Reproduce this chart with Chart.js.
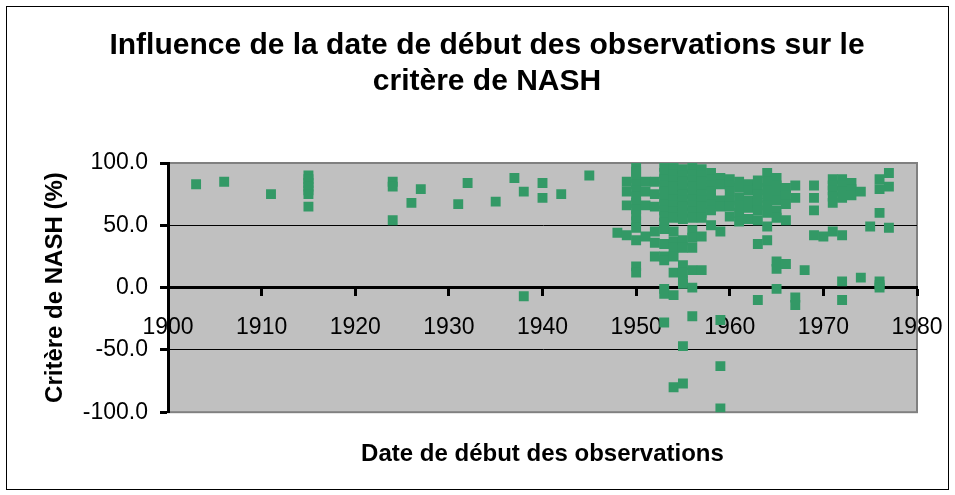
<!DOCTYPE html>
<html lang="fr">
<head>
<meta charset="utf-8">
<title>Critère de NASH</title>
<script src="https://cdn.jsdelivr.net/npm/chart.js@4.4.0/dist/chart.umd.min.js"></script>
<style>
  body { margin: 0; background: #fff; }
  canvas { display: block; }
</style>
</head>
<body>
<canvas id="nashChart" width="955" height="495"></canvas>
<script>
// Date de début des observations, une entrée par station
const annees = [
  1903, 1906, 1911,
  1915, 1915, 1915, 1915, 1915, 1915, 1915,
  1924, 1924, 1924, 1926, 1927, 1931, 1932, 1935, 1937,
  1938, 1938, 1940, 1940, 1942, 1945, 1948,
  1949, 1949, 1949, 1949,
  1950, 1950, 1950, 1950, 1950, 1950, 1950, 1950, 1950, 1950, 1950, 1950, 1950, 1950,
  1951, 1951, 1951, 1951,
  1952, 1952, 1952, 1952, 1952, 1952,
  1953, 1953, 1953, 1953, 1953, 1953, 1953, 1953, 1953, 1953, 1953, 1953, 1953, 1953, 1953, 1953, 1953,
  1954, 1954, 1954, 1954, 1954, 1954, 1954, 1954, 1954, 1954, 1954, 1954, 1954, 1954, 1954, 1954,
  1955, 1955, 1955, 1955, 1955, 1955, 1955, 1955, 1955, 1955, 1955, 1955, 1955, 1955, 1955, 1955, 1955,
  1956, 1956, 1956, 1956, 1956, 1956, 1956, 1956, 1956, 1956, 1956, 1956, 1956, 1956, 1956,
  1957, 1957, 1957, 1957, 1957, 1957, 1957, 1957, 1957, 1957, 1957,
  1958, 1958, 1958, 1958, 1958, 1958, 1958, 1958,
  1959, 1959, 1959, 1959, 1959, 1959, 1959, 1959,
  1960, 1960, 1960, 1960, 1960, 1960,
  1961, 1961, 1961, 1961, 1961, 1961,
  1962, 1962, 1962, 1962, 1962,
  1963, 1963, 1963, 1963, 1963, 1963, 1963, 1963,
  1964, 1964, 1964, 1964, 1964, 1964, 1964, 1964,
  1965, 1965, 1965, 1965, 1965, 1965, 1965, 1965, 1965,
  1966, 1966, 1966, 1966, 1966,
  1967, 1967, 1967, 1967, 1968,
  1969, 1969, 1969, 1969, 1970,
  1971, 1971, 1971, 1971, 1971, 1971,
  1972, 1972, 1972, 1972, 1972, 1972, 1972,
  1973, 1973, 1973, 1974, 1974, 1975,
  1976, 1976, 1976, 1976, 1976, 1976,
  1977, 1977, 1977
];

// Critère de NASH (%), même ordre que annees
const nash = [
  83, 85, 75,
  90, 87, 84, 81, 78, 75, 65,
  85, 81, 54, 68, 79, 67, 84, 69, 88,
  77, -7, 84, 72, 75, 90, 44,
  85, 77, 66, 42,
  96, 93, 88, 83, 78, 73, 68, 63, 58, 53, 48, 38, 17, 12,
  85, 77, 66, 41,
  85, 75, 65, 45, 36, 25,
  97, 92, 87, 82, 77, 72, 67, 62, 57, 52, 47, 35, 25, 22, -1, -5, -28,
  96, 91, 86, 81, 76, 71, 66, 61, 56, 45, 37, 32, 25, 12, -6, -80,
  95, 90, 85, 80, 75, 70, 65, 60, 55, 38, 32, 18, 12, 5, 3, -47, -77,
  96, 91, 86, 81, 76, 71, 66, 61, 56, 46, 40, 32, 14, 0, -23,
  95, 90, 85, 80, 75, 70, 65, 60, 56, 41, 14,
  92, 87, 82, 77, 72, 67, 62, 50,
  88, 83, 70, 65, 45, -26, -63, -97,
  87, 82, 77, 70, 65, 57,
  85, 80, 72, 66, 60, 53,
  83, 78, 70, 64, 55,
  86, 80, 75, 68, 62, 54, 35, -10,
  92, 85, 78, 72, 66, 60, 49, 38,
  88, 82, 76, 70, 62, 56, 21, 15, -1,
  80, 74, 67, 54, 19,
  82, 72, -8, -14, 14,
  82, 72, 62, 42, 41,
  87, 82, 78, 73, 68, 45,
  87, 82, 77, 72, 42, 5, -10,
  84, 79, 74, 77, 8, 49,
  87, 79, 60, 5, 2, 0,
  92, 81, 48
];

const xTicks = [1900, 1910, 1920, 1930, 1940, 1950, 1960, 1970, 1980];
const yTicks = [-100, -50, 0, 50, 100];

// fond gris de la zone de tracé + cadre noir autour du graphique
const fondGris = {
    id: 'fondGris',
    beforeDraw(chart) {
        const { ctx, chartArea: a } = chart;
        ctx.save();
        ctx.fillStyle = '#fff';
        ctx.fillRect(0, 0, chart.width, chart.height);
        ctx.strokeStyle = '#000';
        ctx.lineWidth = 1;
        ctx.strokeRect(6.5, 6.5, 942, 483);
        ctx.fillStyle = '#c0c0c0';
        ctx.fillRect(a.left, a.top, a.width, a.height);
        ctx.strokeStyle = '#808080';
        ctx.lineWidth = 2;
        ctx.strokeRect(a.left, a.top, a.width, a.height);
        ctx.restore();
    }
};

Chart.defaults.font.family = '"Liberation Sans", Arial, sans-serif';
Chart.defaults.color = '#000';

new Chart(document.getElementById('nashChart'), {
    type: 'scatter',
    data: {
        datasets: [{
            label: 'Critère de NASH',
            data: annees.map((a, i) => ({ x: a, y: nash[i] })),
            backgroundColor: '#339966',
            borderWidth: 0,
            pointStyle: 'rect',
            pointRadius: 7,
            pointHoverRadius: 7
        }]
    },
    options: {
        responsive: false,
        animation: false,
        events: [],
        layout: { padding: { left: 57, right: 38, top: 0, bottom: 0 } },
        plugins: {
            legend: { display: false },
            tooltip: { enabled: false },
            title: {
                display: true,
                text: ['Influence de la date de début des observations sur le', 'critère de NASH'],
                font: { size: 30, weight: 'bold', lineHeight: 1.2 },
                color: '#000',
                padding: { top: 28, bottom: 63 }
            },
            subtitle: {
                display: true,
                position: 'bottom',
                fullSize: false,
                text: 'Date de début des observations',
                font: { size: 24, weight: 'bold', lineHeight: 1.2 },
                color: '#000',
                padding: { top: 28, bottom: 26 }
            }
        },
        scales: {
            x: {
                type: 'linear',
                position: { y: 0 },
                min: 1900,
                max: 1980,
                afterBuildTicks: s => { s.ticks = xTicks.map(v => ({ value: v })); },
                afterFit: s => { s.paddingLeft = 0; s.paddingRight = 0; },
                ticks: {
                    font: { size: 23 },
                    padding: 19,
                    maxRotation: 0,
                    autoSkip: false,
                    callback: v => String(v)
                },
                grid: { drawOnChartArea: false, tickLength: 7, tickWidth: 3, tickColor: '#000' },
                border: { color: '#000', width: 3 }
            },
            y: {
                min: -100,
                max: 100,
                afterBuildTicks: s => { s.ticks = yTicks.map(v => ({ value: v })); },
                afterFit: s => { s.width = 111; },
                ticks: {
                    font: { size: 23 },
                    padding: 12,
                    callback: v => v.toFixed(1)
                },
                grid: {
                    color: c => (Math.abs(c.tick.value) === 100 ? '#808080' : '#000'),
                    lineWidth: 1,
                    tickLength: 8,
                    tickWidth: 3,
                    tickColor: '#000'
                },
                border: { color: '#000', width: 3 },
                title: {
                    display: true,
                    text: 'Critère de NASH (%)',
                    font: { size: 24, weight: 'bold' },
                    padding: { top: -16, bottom: 0 }
                }
            }
        }
    },
    plugins: [fondGris]
});
</script>
</body>
</html>
